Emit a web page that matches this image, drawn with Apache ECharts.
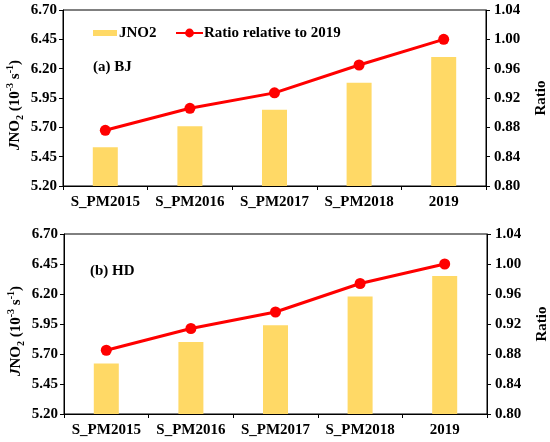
<!DOCTYPE html>
<html>
<head>
<meta charset="utf-8">
<script src="https://cdn.jsdelivr.net/npm/echarts@6/dist/echarts.min.js"></script>
<style>
  html, body { margin: 0; padding: 0; background: #fff; }
  #chart { width: 550px; height: 442px; }
</style>
</head>
<body>
<div id="chart"></div>
<script>
const categories = ["S_PM2015", "S_PM2016", "S_PM2017", "S_PM2018", "2019"];
const jno2BJ = [5.53, 5.71, 5.85, 6.08, 6.30];
const ratioBJ = [0.876, 0.906, 0.927, 0.965, 1.0];
const jno2HD = [5.62, 5.80, 5.94, 6.18, 6.35];
const ratioHD = [0.885, 0.914, 0.936, 0.974, 1.0];
const panelLabels = ["(a) BJ", "(b) HD"];

const FONT = "Liberation Serif";
const BAR = "#FFD966";
const RED = "#FF0000";
const txt = { fontFamily: FONT, fontWeight: "bold", fontSize: 15, color: "#000" };

const grids = [
  { left: 63, right: 64, top: 10, height: 176 },
  { left: 64, right: 63, top: 234, height: 180 },
];

function xAx(i) {
  return {
    type: "category", gridIndex: i, data: categories,
    axisLine: { lineStyle: { color: "#000", width: 1 } },
    axisTick: { show: true, inside: false, length: 4, lineStyle: { color: "#000" } },
    axisLabel: { ...txt, margin: 9, interval: 0 },
  };
}

function leftAx(i) {
  return {
    type: "value", gridIndex: i, min: 5.2, max: 6.7, interval: 0.25,
    name: "{i|J}{n|NO}{s|2}{n| (10}{p|-3}{n| s}{p|-1}{n|)}",
    nameLocation: "middle", nameRotate: 90, nameGap: 38, nameMoveOverlap: false,
    nameTextStyle: {
      padding: [0, 14, 0, 0],
      rich: {
        i: { fontFamily: FONT, fontWeight: "bold", fontStyle: "italic", fontSize: 15, color: "#000", lineHeight: 20 },
        n: { fontFamily: FONT, fontWeight: "bold", fontSize: 15, color: "#000", lineHeight: 20 },
        s: { fontFamily: FONT, fontWeight: "bold", fontSize: 10, color: "#000", lineHeight: 10, verticalAlign: "bottom" },
        p: { fontFamily: FONT, fontWeight: "bold", fontSize: 10, color: "#000", lineHeight: 10, verticalAlign: "top" },
      },
    },
    axisLine: { show: true, lineStyle: { color: "#000", width: 1 } },
    axisTick: { show: true, inside: false, length: 4, lineStyle: { color: "#000" } },
    axisLabel: { ...txt, margin: 6, formatter: (v) => v.toFixed(2) },
    splitLine: { show: false },
  };
}

function rightAx(i) {
  return {
    type: "value", gridIndex: i, position: "right", min: 0.8, max: 1.04, interval: 0.04,
    name: "Ratio", nameLocation: "middle", nameRotate: 90, nameGap: 48, nameMoveOverlap: false,
    nameTextStyle: { ...txt },
    axisLine: { show: true, lineStyle: { color: "#000", width: 1 } },
    axisTick: { show: true, inside: false, length: 4, lineStyle: { color: "#000" } },
    axisLabel: { ...txt, margin: 8, formatter: (v) => v.toFixed(2) },
    splitLine: { show: false },
  };
}

function barS(i, data) {
  return {
    name: "JNO2", type: "bar", xAxisIndex: i, yAxisIndex: i * 2, data,
    barWidth: 25, itemStyle: { color: BAR },
  };
}

function lineS(i, data) {
  return {
    name: "Ratio relative to 2019", type: "line", xAxisIndex: i, yAxisIndex: i * 2 + 1, data,
    symbol: "circle", symbolSize: 11, lineStyle: { color: RED, width: 3 },
    itemStyle: { color: RED }, z: 5,
  };
}

const chart = echarts.init(document.getElementById("chart"));
chart.setOption({
  backgroundColor: "#fff",
  animation: false,
  grid: grids.map((g) => ({
    ...g, show: true, borderColor: "#000", borderWidth: 1, backgroundColor: "transparent",
    containLabel: false, outerBoundsMode: "none",
  })),
  xAxis: [xAx(0), xAx(1)],
  yAxis: [leftAx(0), rightAx(0), leftAx(1), rightAx(1)],
  legend: [
    {
      left: 93, top: 25, height: 16, padding: 0, itemWidth: 24, itemHeight: 6,
      textStyle: { ...txt, padding: [0, 0, 0, -3], lineHeight: 16 },
      data: [{ name: "JNO2", icon: "rect" }],
    },
    {
      left: 175, top: 25, height: 16, padding: 0, itemWidth: 27, itemHeight: 11,
      textStyle: { ...txt, padding: [0, 0, 0, -4], lineHeight: 16 },
      data: [{ name: "Ratio relative to 2019" }],
    },
  ],
  graphic: [
    { type: "text", left: 93, top: 60, style: { text: panelLabels[0], fill: "#000", font: "bold 15px 'Liberation Serif'" } },
    { type: "text", left: 90, top: 264, style: { text: panelLabels[1], fill: "#000", font: "bold 15px 'Liberation Serif'" } },
  ],
  series: [barS(0, jno2BJ), lineS(0, ratioBJ), barS(1, jno2HD), lineS(1, ratioHD)],
});
</script>
</body>
</html>
